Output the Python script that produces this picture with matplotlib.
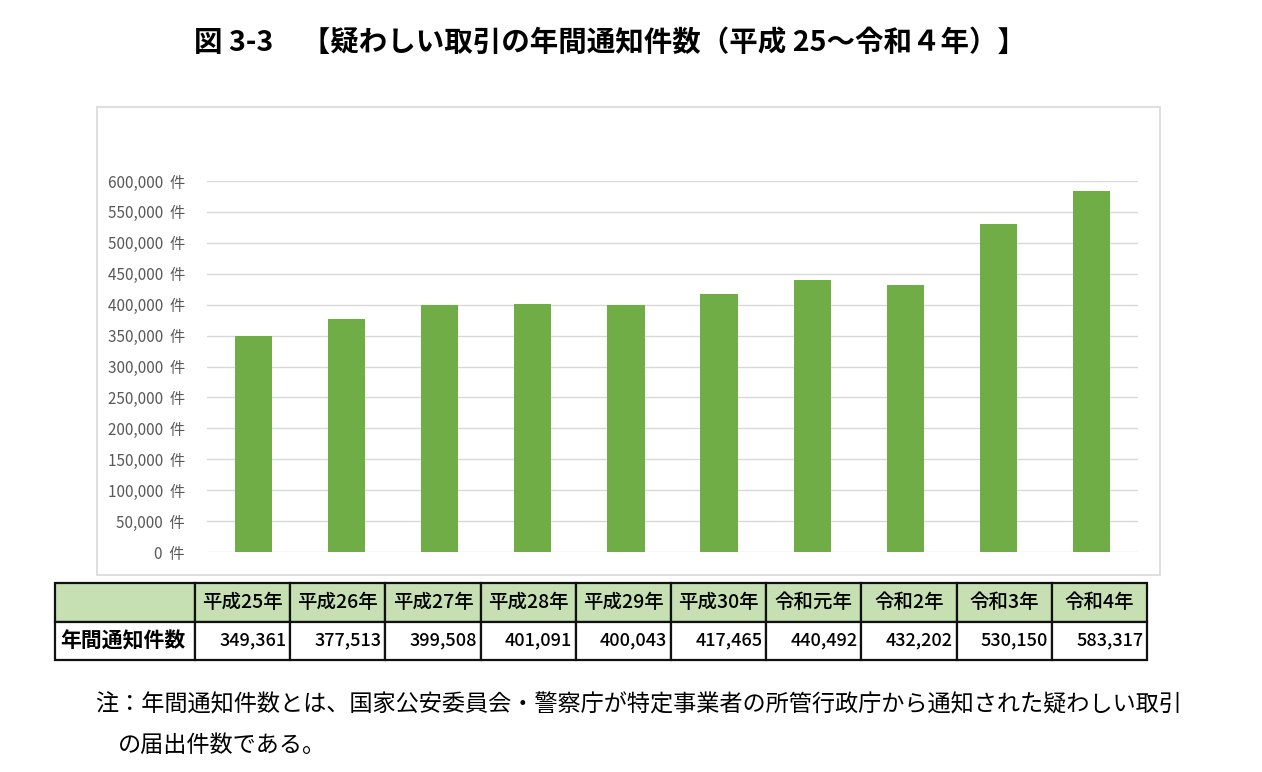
import matplotlib.pyplot as plt
from matplotlib.patches import Rectangle

plt.rcParams['font.family'] = ['Noto Sans CJK JP', 'DejaVu Sans']

years = ["平成25年", "平成26年", "平成27年", "平成28年", "平成29年",
         "平成30年", "令和元年", "令和2年", "令和3年", "令和4年"]
counts = [349361, 377513, 399508, 401091, 400043,
          417465, 440492, 432202, 530150, 583317]
yticks = list(range(0, 600001, 50000))

title = "図 3-3　【疑わしい取引の年間通知件数（平成 25～令和４年）】"
row_label = "年間通知件数"
note1 = "注：年間通知件数とは、国家公安委員会・警察庁が特定事業者の所管行政庁から通知された疑わしい取引"
note2 = "の届出件数である。"

W, H = 1262, 772
fig = plt.figure(figsize=(W / 100, H / 100), dpi=100)

# chart frame
fig.patches.append(Rectangle((97 / W, 1 - 575 / H), (1160 - 97) / W, (575 - 107) / H,
                             transform=fig.transFigure, fill=False,
                             edgecolor="#D9D9D9", linewidth=1.2))

ax = fig.add_axes([207 / W, 1 - 552 / H, (1138 - 207) / W, (552 - 181) / H])
x = range(len(years))
ax.bar(x, counts, width=0.4, color="#70AD47", zorder=3)
ax.set_xlim(-0.5, len(years) - 0.5)
ax.set_ylim(0, 600000)
ax.set_yticks(yticks)
ax.set_yticklabels([f"{v:,}  件" for v in yticks], fontsize=11, color="#595959")
ax.set_xticks([])
ax.grid(axis="y", color="#D9D9D9", linewidth=1, zorder=0)
for s in ax.spines.values():
    s.set_visible(False)
ax.tick_params(axis="y", length=0, pad=16)

# title
fig.text(610 / W, 1 - 43 / H, title, ha="center", va="center",
         fontsize=20.5, fontweight="bold")

# table
tax = fig.add_axes([55 / W, 1 - 660 / H, (1147 - 55) / W, (660 - 583) / H])
tax.axis("off")
cells = [[""] + years, [row_label] + [f"{v:,}" for v in counts]]
colours = [["#C6E0B4"] * 11, ["white"] * 11]
widths = [140] + [95.2] * 10
tot = sum(widths)
tbl = tax.table(cellText=cells, cellColours=colours,
                colWidths=[w / tot for w in widths], bbox=[0, 0, 1, 1])
tbl.auto_set_font_size(False)
for (r, c), cell in tbl.get_celld().items():
    cell.set_linewidth(1.6)
    cell.set_edgecolor("#111111")
    cell.PAD = 0.04
    txt = cell.get_text()
    txt.set_fontsize(14)
    txt.set_fontweight("medium")
    if r == 1 and c > 0:
        cell._loc = "right"
        txt.set_ha("right")
        txt.set_fontsize(13)
    elif r == 1 and c == 0:
        cell._loc = "left"
        txt.set_ha("left")
        txt.set_fontsize(15)
        txt.set_fontweight("bold")
    else:
        txt.set_ha("center")

# note
fig.text(95 / W, 1 - 705 / H, note1, ha="left", va="center", fontsize=16.7)
fig.text(118 / W, 1 - 745 / H, note2, ha="left", va="center", fontsize=16.7)

fig.savefig("out.png", dpi=100)
